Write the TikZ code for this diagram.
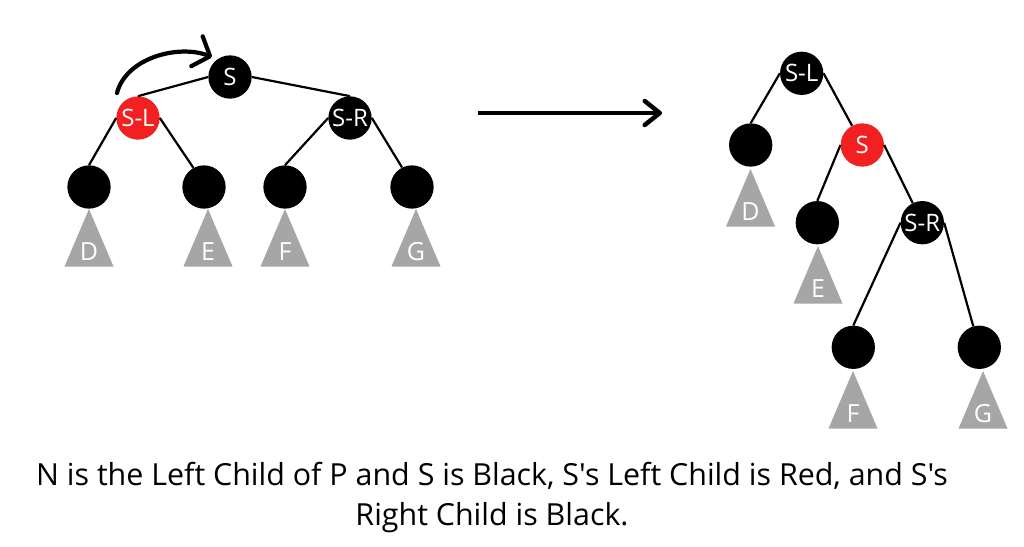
\documentclass[tikz,border=0pt]{standalone}
\usepackage{fontspec}
\newfontfamily\diagfont{Open Sans}
\usetikzlibrary{arrows.meta}
\definecolor{treered}{RGB}{242,32,32}
\definecolor{subgray}{RGB}{166,166,166}
\begin{document}
\begin{tikzpicture}[x=1pt,y=-1pt,
  rb/.style={circle, minimum size=43.3pt, inner sep=0pt, fill=black, text=white,
    font=\diagfont\fontsize{24}{24}\selectfont},
  rednode/.style={rb, fill=treered},
  edge/.style={line width=2.2pt, draw=black},
  subtext/.style={text=white, inner sep=0pt, font=\diagfont\fontsize{25}{25}\selectfont},
  pics/subtree/.style={code={
    \fill[subgray] (-24.5,57.5) -- (0,0) -- (24.5,57.5) -- cycle;
    \node[subtext] (-lab) at (0,43) {#1};}},
  caption/.style={align=center, inner sep=0pt, font=\diagfont\fontsize{30.4}{40}\selectfont}
]
\useasboundingbox (0,0) rectangle (1024,546);

% ---------- left tree ----------
\node[rb] (S1) at (230,77) {S};
\node[rednode] (SL1) at (138,118) {S-L};
\node[rb] (SR1) at (350,118) {S-R};
\node[rb] (D1) at (89,187) {};
\node[rb] (E1) at (204,187) {};
\node[rb] (F1) at (285,187) {};
\node[rb] (G1) at (412,187) {};
\pic (tD1) at (89,209) {subtree=D};
\pic (tE1) at (208,209) {subtree=E};
\pic (tF1) at (285,209) {subtree=F};
\pic (tG1) at (416,209) {subtree=G};

\draw[edge] (S1.west) -- (SL1.north);
\draw[edge] (S1.east) -- (SR1.north);
\draw[edge] (SL1.west) -- (D1.north);
\draw[edge] (SL1.east) -- (E1.119);
\draw[edge] (SR1.west) -- (F1.north);
\draw[edge] (SR1.east) -- (G1.117);

% curved rotation arrow
\coordinate (cs) at (117,93);
\coordinate (ce) at (212,57);
\draw[line width=4.2pt, line cap=round,
  -{Straight Barb[length=14pt,width=32pt,round]}]
  (cs) .. controls (126,58) and (178,44) .. (ce);

% transformation arrow
\coordinate (ha) at (478,113);
\coordinate (hb) at (662,113);
\draw[line width=4.5pt, -{Straight Barb[length=15pt,width=24pt,round]}] (ha) -- (hb);

% ---------- right tree ----------
\node[rb] (SL2) at (801.7,73.3) {S-L};
\node[rb] (D2) at (750.7,145) {};
\node[rednode] (S2) at (862.3,145) {S};
\node[rb] (E2) at (817.3,222.7) {};
\node[rb] (SR2) at (922.3,222.7) {S-R};
\node[rb] (F2) at (853.3,347.3) {};
\node[rb] (G2) at (979.3,347.3) {};
\pic (tD2) at (750.5,169) {subtree=D};
\pic (tE2) at (818,246) {subtree=E};
\pic (tF2) at (853,371) {subtree=F};
\pic (tG2) at (983,371) {subtree=G};

\draw[edge] (SL2.west) -- (D2.north);
\draw[edge] (SL2.east) -- (S2.118);
\draw[edge] (S2.west) -- (E2.north);
\draw[edge] (S2.east) -- (SR2.116);
\draw[edge] (SR2.west) -- (F2.north);
\draw[edge] (SR2.east) -- (G2.106);

% ---------- caption ----------
\node[caption] (cap) at (492,498) {N is the Left Child of P and S is Black, S's Left Child is Red, and S's\\Right Child is Black.};
\end{tikzpicture}
\end{document}
